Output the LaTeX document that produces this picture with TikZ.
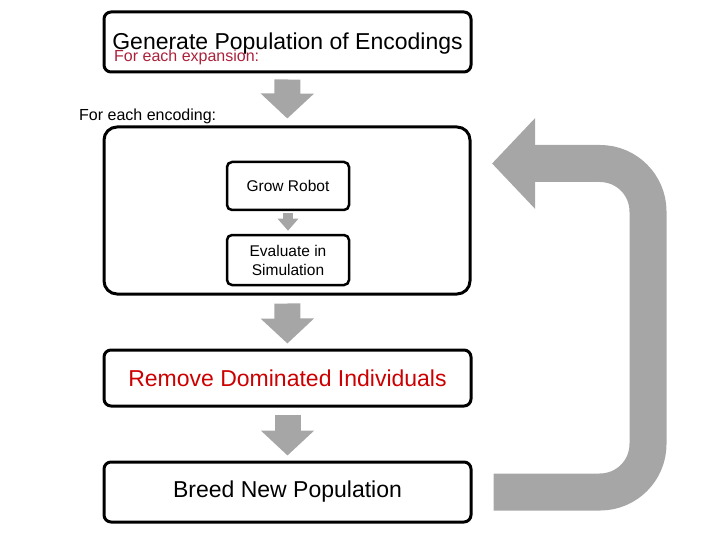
\documentclass[tikz,border=0pt]{standalone}
\usepackage{fontspec}
\setmainfont{Liberation Sans}
\definecolor{flowGray}{RGB}{166, 166, 166}
\definecolor{labelRed}{RGB}{172, 32, 58}
\definecolor{titleRed}{RGB}{204, 0, 0}
\usetikzlibrary{positioning, calc, arrows.meta}

\begin{document}
\begin{tikzpicture}[
          x=1pt, y=-1pt,
          bigbox/.style={rectangle, draw=black, line width=3pt, rounded corners=7pt, minimum width=367pt, minimum height=56pt, inner sep=0pt, font=\fontsize{23}{27}\selectfont},
          smallbox/.style={rectangle, draw=black, line width=2.5pt, rounded corners=5pt, minimum width=122pt, minimum height=48pt, inner sep=0pt, align=center, font=\fontsize{15.5}{19}\selectfont},
          note/.style={anchor=base west, inner sep=0pt, font=\fontsize{16}{19}\selectfont},
          blockarrow/.style={flowGray, line width=26pt, -{Triangle[length=25pt, width=52pt]}},
          minorarrow/.style={flowGray, line width=10pt, -{Triangle[length=12pt, width=20pt]}}
        ]
          \useasboundingbox (0,0) rectangle (720,540);

          % main flow
          \node[bigbox, minimum height=60pt, text depth=1pt] (gen) at (287.5,42) {Generate Population of Encodings};
          \node[note, text=labelRed] (expNote) at (114,62) {For each expansion:};
          \node[note] (encNote) at (79,121) {For each encoding:};
          \node[rectangle, draw=black, line width=3pt, rounded corners=13pt, minimum width=366pt, minimum height=167pt] (encLoop) at (287,210.5) {};
          \node[smallbox] (grow) at (288,186) {Grow Robot};
          \node[smallbox, minimum height=50pt] (eval) at (288,260) {Evaluate in\\Simulation};
          \node[bigbox, text=titleRed] (remove) at (287.5,378) {Remove Dominated Individuals};
          \node[bigbox, minimum height=60pt] (breed) at (287.5,492) {Breed New Population};

          \draw[blockarrow, shorten <=6pt, shorten >=7pt] (gen) -- (encLoop);
          \draw[minorarrow, shorten <=2pt, shorten >=3pt] (grow) -- (eval);
          \draw[blockarrow, shorten <=8pt, shorten >=5pt] (encLoop) -- (remove);
          \draw[blockarrow, shorten <=7pt, shorten >=5pt] (remove) -- (breed);

          % loop back
          \coordinate (loopStart) at ($(breed.east)+(21,0)$);
          \coordinate (loopTip) at (492,163.5);
          \draw[flowGray, line width=37pt, rounded corners=48pt, -{Triangle[length=43pt, width=88pt]}]
            (loopStart) -- ++(154.5,0) |- (loopTip);
        \end{tikzpicture}
\end{document}
